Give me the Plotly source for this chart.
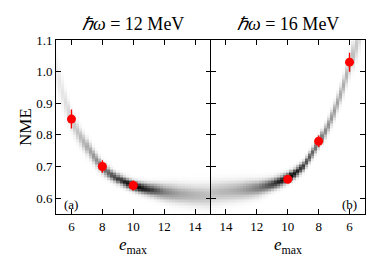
import numpy as np
import plotly.graph_objects as go

# ---- data ----
emax_knots = [5.0, 5.5, 6.0, 6.5, 7.0, 7.5, 8.0, 8.5, 9.0, 9.5, 10.0,
              10.5, 11.0, 11.5, 12.0, 12.5, 13.0, 13.5, 14.0, 14.5, 15.0]

# panel (a): hw = 12 MeV density band (centre, spread, intensity per e_max column)
a_center = [1.00, 0.915, 0.845, 0.80, 0.762, 0.725, 0.695, 0.675, 0.66, 0.648, 0.638,
            0.631, 0.626, 0.622, 0.618, 0.615, 0.612, 0.61, 0.608, 0.607, 0.606]
a_spread = [0.035, 0.027, 0.021, 0.018, 0.016, 0.014, 0.012, 0.011, 0.010, 0.010, 0.010,
            0.011, 0.012, 0.014, 0.016, 0.018, 0.019, 0.020, 0.021, 0.022, 0.023]
a_peak = [0.07, 0.11, 0.18, 0.25, 0.33, 0.42, 0.52, 0.64, 0.76, 0.9, 1.0,
          0.95, 0.82, 0.65, 0.5, 0.42, 0.36, 0.32, 0.29, 0.27, 0.25]

# panel (b): hw = 16 MeV density band
b_center = [1.2, 1.1, 1.02, 0.94, 0.875, 0.82, 0.775, 0.735, 0.70, 0.68, 0.663,
            0.652, 0.643, 0.636, 0.63, 0.627, 0.624, 0.622, 0.62, 0.618, 0.616]
b_spread = [0.035, 0.03, 0.022, 0.018, 0.016, 0.014, 0.012, 0.011, 0.010, 0.010, 0.010,
            0.011, 0.012, 0.014, 0.016, 0.018, 0.019, 0.020, 0.021, 0.022, 0.023]
b_peak = [0.12, 0.2, 0.28, 0.33, 0.38, 0.45, 0.53, 0.63, 0.75, 0.88, 1.0,
          0.9, 0.75, 0.6, 0.5, 0.42, 0.36, 0.32, 0.29, 0.27, 0.25]

# red points with error bars
a_emax = [6, 8, 10]
a_nme = [0.85, 0.70, 0.64]
a_err = [0.03, 0.02, 0.016]

b_emax = [10, 8, 6]
b_nme = [0.66, 0.78, 1.03]
b_err = [0.01, 0.018, 0.03]

titles = ["<i>ℏω</i> = 12 MeV", "<i>ℏω</i> = 16 MeV"]
panel_labels = ["(a)", "(b)"]

# ---- build density tables (pixel cells of the histogram image) ----
nme_grid = np.arange(0.55, 1.1501, 0.005)
emax_grid = np.arange(5.0, 15.0001, 0.2)


def density(center, spread, peak):
    c = np.interp(emax_grid, emax_knots, center)[None, :]
    s = np.interp(emax_grid, emax_knots, spread)[None, :]
    p = np.interp(emax_grid, emax_knots, peak)[None, :]
    return p * np.exp(-0.5 * ((nme_grid[:, None] - c) / s) ** 2)


za = density(a_center, a_spread, a_peak)
zb = density(b_center, b_spread, b_peak)

FONT = "Liberation Serif, Times New Roman, serif"
fig = go.Figure()
gray = [[0, "white"], [1, "black"]]
fig.add_trace(go.Heatmap(x=emax_grid, y=nme_grid, z=za, colorscale=gray, zmin=0, zmax=1,
                         showscale=False, xaxis="x", yaxis="y", hoverinfo="skip"))
fig.add_trace(go.Heatmap(x=emax_grid, y=nme_grid, z=zb, colorscale=gray, zmin=0, zmax=1,
                         showscale=False, xaxis="x2", yaxis="y2", hoverinfo="skip"))

red = "#ff0000"
for xs, ys, es, xa, ya in [(a_emax, a_nme, a_err, "x", "y"), (b_emax, b_nme, b_err, "x2", "y2")]:
    fig.add_trace(go.Scatter(x=xs, y=ys, mode="markers",
                             marker=dict(color=red, size=9, line=dict(width=0)),
                             error_y=dict(type="data", array=es, color=red, thickness=1.3, width=0),
                             xaxis=xa, yaxis=ya, showlegend=False, hoverinfo="skip"))

axis_common = dict(showline=True, linecolor="black", linewidth=1, mirror="ticks",
                   ticks="inside", ticklen=5, tickwidth=1, tickcolor="black",
                   showgrid=False, zeroline=False,
                   tickfont=dict(family=FONT, size=13, color="black"))

tickv = [6, 8, 10, 12, 14]
fig.update_layout(
    width=382, height=267,
    margin=dict(l=56, r=17, t=40, b=53),
    paper_bgcolor="white", plot_bgcolor="white",
    showlegend=False,
    xaxis=dict(domain=[0, 0.5], range=[5, 15], tickvals=tickv,
               ticktext=[str(v) for v in tickv], **axis_common),
    xaxis2=dict(domain=[0.5, 1], range=[15, 5], tickvals=tickv,
                ticktext=[str(v) for v in tickv], anchor="y2", **axis_common),
    yaxis=dict(range=[0.55, 1.1], tickvals=[0.6, 0.7, 0.8, 0.9, 1.0, 1.1],
               ticktext=["0.6", "0.7", "0.8", "0.9", "1.0", "1.1"], anchor="x",
               title=dict(text="NME", font=dict(family=FONT, size=17, color="black"), standoff=0),
               **axis_common),
    yaxis2=dict(range=[0.55, 1.1], tickvals=[0.6, 0.7, 0.8, 0.9, 1.0, 1.1],
                showticklabels=False, anchor="x2", **axis_common),
)

annotations = []
for i, (t, xc) in enumerate(zip(titles, [0.25, 0.75])):
    annotations.append(dict(text=t, x=xc, y=1.0, xref="paper", yref="paper",
                            xanchor="center", yanchor="bottom",
                            yshift=4, showarrow=False,
                            font=dict(family=FONT, size=18, color="black")))
    annotations.append(dict(text="<i>e</i><sub>max</sub>", x=xc, y=0, xref="paper", yref="paper",
                            xanchor="center", yanchor="top", yshift=-19, showarrow=False,
                            font=dict(family=FONT, size=17, color="black")))
annotations.append(dict(text=panel_labels[0], x=5.4, y=0.58, xref="x", yref="y", xanchor="left",
                        showarrow=False, font=dict(family=FONT, size=13, color="black")))
annotations.append(dict(text=panel_labels[1], x=5.4, y=0.58, xref="x2", yref="y2", xanchor="right",
                        showarrow=False, font=dict(family=FONT, size=13, color="black")))
fig.update_layout(annotations=annotations)

fig.write_html("out.html", config={"displayModeBar": False},
               post_script="document.body.style.margin='0px';")
